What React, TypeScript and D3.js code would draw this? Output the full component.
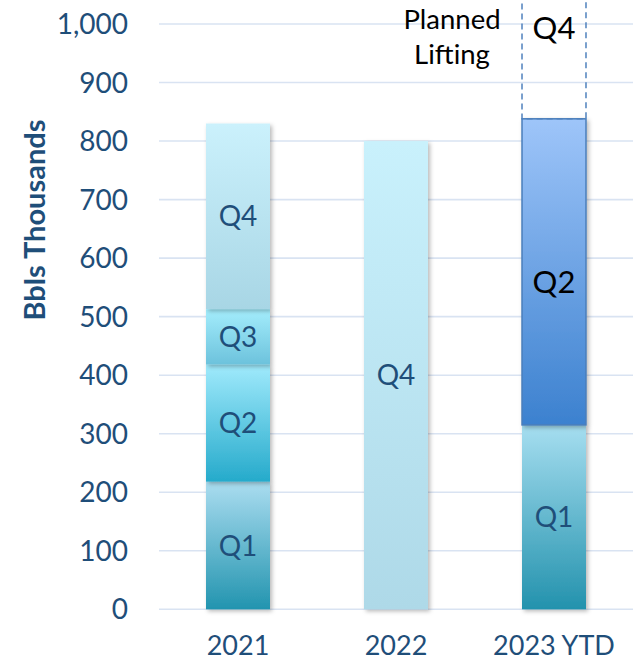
import React from "react";
import * as d3 from "d3";

const categories = ["2021", "2022", "2023 YTD"];
const quarters = ["Q1", "Q2", "Q3", "Q4"];
const q1Values = [218, 0, 315];
const q2Values = [200, 0, 523];
const q3Values = [95, 0, 0];
const q4Values = [317, 800, 0];
const plannedQ4 = [0, 0, 312];
const yTicks = [0, 100, 200, 300, 400, 500, 600, 700, 800, 900, 1000];

const W = 639;
const H = 662;
const FONT = "Lato, 'Open Sans', sans-serif";
const DARK = "#1F4E79";

// gradient colours [top, bottom] per category/quarter
const grad: Record<string, [string, string]> = {
  "2021|Q1": ["#ABDDF0", "#2294AF"],
  "2021|Q2": ["#A0EAFC", "#25AACB"],
  "2021|Q3": ["#A4EDFC", "#6CC2DC"],
  "2021|Q4": ["#CBF1FC", "#A8D6E5"],
  "2022|Q4": ["#C9F1FC", "#AED9E8"],
  "2023 YTD|Q1": ["#A6DEF0", "#2392AD"],
  "2023 YTD|Q2": ["#9EC5F9", "#3C81CF"],
};

export default function App() {
  const y = d3.scaleLinear().domain([0, 1000]).range([609.3, 24]);
  const x = d3
    .scaleBand<string>()
    .domain(categories)
    .range([159, 633])
    .paddingInner(0.595)
    .paddingOuter(0.2975);

  const rows = categories.map((c, i) => ({
    cat: c,
    Q1: q1Values[i],
    Q2: q2Values[i],
    Q3: q3Values[i],
    Q4: q4Values[i],
  }));
  const stack = d3.stack<any>().keys(quarters)(rows);

  const segs: any[] = [];
  stack.forEach((layer) => {
    layer.forEach((d: any) => {
      const v = d[1] - d[0];
      if (v <= 0) return;
      segs.push({ q: layer.key, cat: d.data.cat, y0: d[0], y1: d[1] });
    });
  });

  const gid = (s: any) => "g" + s.cat.replace(/\W/g, "") + s.q;

  return (
    <svg
      width={W}
      height={H}
      style={{ position: "absolute", left: 0, top: 0, background: "#fff" }}
    >
      <defs>
        {segs.map((s) => {
          const g = grad[s.cat + "|" + s.q] || ["#ccc", "#999"];
          return (
            <linearGradient key={gid(s)} id={gid(s)} x1="0" y1="0" x2="0" y2="1">
              <stop offset="0" stopColor={g[0]} />
              <stop offset="1" stopColor={g[1]} />
            </linearGradient>
          );
        })}
        <filter id="shadow" x="-20%" y="-5%" width="150%" height="115%">
          <feDropShadow dx="2" dy="2" stdDeviation="2" floodColor="#000" floodOpacity="0.28" />
        </filter>
      </defs>

      {/* gridlines */}
      {yTicks.map((t) => (
        <line
          key={t}
          x1={159}
          x2={633}
          y1={y(t)}
          y2={y(t)}
          stroke="#D9E3F2"
          strokeWidth={1.6}
        />
      ))}

      {/* tick labels */}
      {yTicks.map((t) => (
        <text
          key={"t" + t}
          x={128}
          y={y(t)}
          dy="0.36em"
          textAnchor="end"
          fontFamily={FONT}
          fontSize={28}
          fill={DARK}
        >
          {d3.format(",")(t)}
        </text>
      ))}

      {/* axis title */}
      <text
        transform={`translate(45,220) rotate(-90)`}
        textAnchor="middle"
        fontFamily={FONT}
        fontWeight="bold"
        fontSize={29}
        fill={DARK}
      >
        Bbls Thousands
      </text>

      {/* bars */}
      {segs.map((s) => {
        const isBlue = s.cat === "2023 YTD" && s.q === "Q2";
        return (
          <rect
            key={"r" + gid(s)}
            x={x(s.cat)!}
            width={x.bandwidth()}
            y={y(s.y1)}
            height={y(s.y0) - y(s.y1)}
            fill={`url(#${gid(s)})`}
            stroke={isBlue ? "#4A7EBB" : "none"}
            strokeWidth={isBlue ? 1.5 : 0}
            filter="url(#shadow)"
          />
        );
      })}

      {/* planned dashed box */}
      {categories.map((c, i) => {
        if (!plannedQ4[i]) return null;
        const base = q1Values[i] + q2Values[i] + q3Values[i] + q4Values[i];
        const top = base + plannedQ4[i];
        return (
          <g key={"p" + c}>
            <rect
              x={x(c)!}
              width={x.bandwidth()}
              y={y(top)}
              height={y(base) - y(top)}
              fill="none"
              stroke="#4F81BD"
              strokeWidth={1.5}
              strokeDasharray="6,4"
            />
            <text
              x={x(c)! + x.bandwidth() / 2}
              y={y((base + top) / 2)}
              dy="0.36em"
              textAnchor="middle"
              fontFamily={FONT}
              fontSize={31}
              fill="#000"
            >
              Q4
            </text>
          </g>
        );
      })}

      {/* segment labels */}
      {segs.map((s) => {
        const isBlue = s.cat === "2023 YTD" && s.q === "Q2";
        return (
          <text
            key={"l" + gid(s)}
            x={x(s.cat)! + x.bandwidth() / 2}
            y={y((s.y0 + s.y1) / 2) + (isBlue ? 10 : 0)}
            dy="0.36em"
            textAnchor="middle"
            fontFamily={FONT}
            fontSize={isBlue ? 31 : 28}
            fill={isBlue ? "#000" : DARK}
          >
            {s.q}
          </text>
        );
      })}

      {/* Planned Lifting note */}
      <text textAnchor="middle" fontFamily={FONT} fontSize={27.5} fill="#000">
        <tspan x={452} y={29}>Planned</tspan>
        <tspan x={452} y={64}>Lifting</tspan>
      </text>

      {/* x labels */}
      {categories.map((c) => (
        <text
          key={"x" + c}
          x={x(c)! + x.bandwidth() / 2}
          y={655}
          textAnchor="middle"
          fontFamily={FONT}
          fontSize={27}
          fill={DARK}
        >
          {c}
        </text>
      ))}
    </svg>
  );
}
